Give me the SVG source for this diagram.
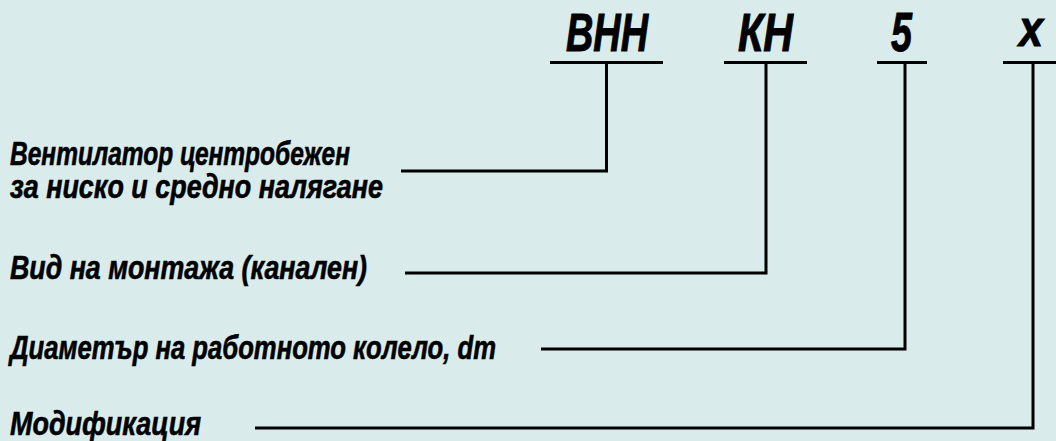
<svg xmlns="http://www.w3.org/2000/svg" width="1056" height="441" viewBox="0 0 1056 441">
  <style>
    .code { font-family: "Liberation Sans", Arial, sans-serif; font-weight: bold; font-style: italic; font-size: 54px; fill: #000; stroke: #000; stroke-width: 1; }
    .label { font-family: "Liberation Sans", Arial, sans-serif; font-weight: bold; font-style: italic; font-size: 33px; fill: #000; stroke: #000; stroke-width: 0.6; }
    .rule { stroke: #000; stroke-width: 3; fill: none; }
    .leader { stroke: #000; stroke-width: 3; fill: none; stroke-linejoin: miter; }
  </style>

  <rect width="1056" height="441" fill="#d9ebeb"/>

  <!-- designation code segments -->
  <g id="code-vnn">
    <text class="code" x="566" y="50.5" textLength="82" lengthAdjust="spacingAndGlyphs">ВНН</text>
    <line class="rule" x1="550" y1="62.5" x2="663" y2="62.5"/>
  </g>
  <g id="code-kn">
    <text class="code" x="738" y="50.5" textLength="55" lengthAdjust="spacingAndGlyphs">КН</text>
    <line class="rule" x1="724" y1="62.5" x2="807" y2="62.5"/>
  </g>
  <g id="code-size">
    <text class="code" x="891" y="50.5" textLength="21" lengthAdjust="spacingAndGlyphs" style="font-size:56px">5</text>
    <line class="rule" x1="877" y1="62.5" x2="927" y2="62.5"/>
  </g>
  <g id="code-mod">
    <text class="code" x="1019" y="46" textLength="24" lengthAdjust="spacingAndGlyphs" style="font-size:52px">x</text>
    <line class="rule" x1="1003" y1="62.5" x2="1056" y2="62.5"/>
  </g>

  <!-- descriptions -->
  <g id="label-type">
    <text class="label" x="10" y="164.5" textLength="340" lengthAdjust="spacingAndGlyphs">Вентилатор центробежен</text>
    <text class="label" x="10" y="198" textLength="373" lengthAdjust="spacingAndGlyphs">за ниско и средно налягане</text>
  </g>
  <g id="label-mounting">
    <text class="label" x="10" y="278.5" textLength="357" lengthAdjust="spacingAndGlyphs">Вид на монтажа (канален)</text>
  </g>
  <g id="label-diameter">
    <text class="label" x="10" y="358.5" textLength="486" lengthAdjust="spacingAndGlyphs">Диаметър на работното колело, dm</text>
  </g>
  <g id="label-modification">
    <text class="label" x="10" y="435" textLength="191" lengthAdjust="spacingAndGlyphs">Модификация</text>
  </g>

  <!-- leaders from each code segment to its description -->
  <g id="connectors">
    <polyline class="leader" points="606.5,62.5 606.5,171 401,171"/>
    <polyline class="leader" points="766,62.5 766,273 405,273"/>
    <polyline class="leader" points="905,62.5 905,349 541,349"/>
    <polyline class="leader" points="1033,62.5 1033,428 255,428"/>
  </g>
</svg>
